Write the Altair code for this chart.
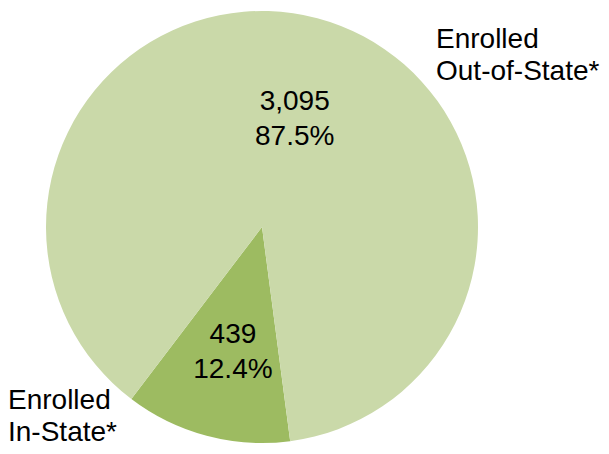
import math
import altair as alt
import pandas as pd

categories = ["In-State", "Out-of-State"]
counts = [439, 3095]
percents = ["12.4%", "87.5%"]
outer_labels = ["Enrolled\nIn-State*", "Enrolled\nOut-of-State*"]
colors = ["#9dbb61", "#cad9a9"]

START = math.radians(172.5)

df = pd.DataFrame({
    "category": categories,
    "value": counts,
    "idx": list(range(len(categories))),
    "inner": [f"{c:,}\n{p}" for c, p in zip(counts, percents)],
    "outer": outer_labels,
})

CX, CY, R = 254, 219, 216
FONT = "Liberation Sans"

base = (
    alt.Chart(df)
    .transform_window(v1="sum(value)", sort=[alt.SortField("idx")], frame=[None, 0])
    .transform_calculate(v0="datum.v1 - datum.value")
    .transform_calculate(mid="(datum.v0 + datum.v1) / 2")
)

theta_scale = alt.Scale(domain=[0, sum(counts)], range=[START, START + 2 * math.pi], zero=True)

arcs = base.mark_arc(strokeWidth=0).encode(
    theta=alt.Theta("v0:Q", scale=theta_scale),
    theta2="v1:Q",
    color=alt.Color("category:N", scale=alt.Scale(domain=categories, range=colors), legend=None),
    x=alt.value(CX),
    y=alt.value(CY),
    radius=alt.value(R),
)

def inner_text(cat, r):
    return base.transform_filter(alt.datum.category == cat).mark_text(
        font=FONT, fontSize=28, lineHeight=35, color="black",
        align="center", baseline="middle", lineBreak="\n", dy=-17, dx=4,
    ).encode(
        theta=alt.Theta("mid:Q", scale=theta_scale),
        text="inner:N",
        x=alt.value(CX),
        y=alt.value(CY),
        radius=alt.value(r),
    )

def outer_text(cat, x, y):
    return base.transform_filter(alt.datum.category == cat).mark_text(
        font=FONT, fontSize=28, lineHeight=32, color="black",
        align="left", baseline="alphabetic", lineBreak="\n",
    ).encode(
        text="outer:N",
        x=alt.value(x),
        y=alt.value(y),
    )

chart = alt.layer(
    arcs,
    inner_text("Out-of-State", 112),
    inner_text("In-State", 129),
    outer_text("Out-of-State", 428, 40),
    outer_text("In-State", 0, 401),
).properties(
    width=593, height=438, padding=0, autosize=alt.AutoSizeParams(type="none")
).configure_view(stroke=None)

chart.save("out.html", embed_options={"renderer": "svg", "actions": False})
